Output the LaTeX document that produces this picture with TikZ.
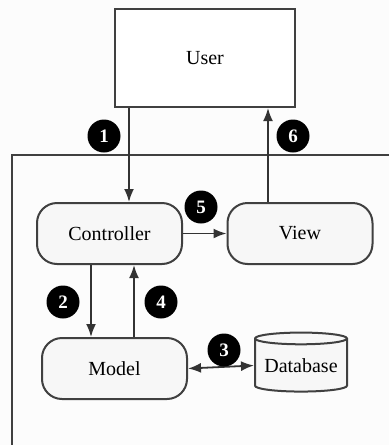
\documentclass[tikz,border=0pt]{standalone}
\usepackage{fontspec}
\setmainfont{Liberation Serif}
\usetikzlibrary{arrows.meta,shapes.geometric,calc}
\begin{document}
\begin{tikzpicture}[x=1pt,y=-1pt,
  userbox/.style={draw=black!75, line width=2pt, fill=white, minimum width=180pt, minimum height=98pt, font=\fontsize{20}{22}\selectfont},
  rbox/.style={draw=black!75, line width=2pt, fill=black!3, rounded corners=20pt, minimum width=145pt, minimum height=61pt, font=\fontsize{20}{22}\selectfont},
  dbbox/.style={cylinder, shape border rotate=90, aspect=0.16, draw=black!75, line width=2pt, fill=black!3, minimum width=92pt, minimum height=59pt, font=\fontsize{20}{22}\selectfont, inner sep=0pt},
  num/.style={circle, fill=black, text=white, inner sep=0pt, minimum size=33pt, font=\bfseries\fontsize{19}{19}\selectfont},
  arr/.style={draw=black!80, line width=1.8pt, -{Latex[length=13pt,width=10pt]}},
  darr/.style={draw=black!80, line width=1.8pt, {Latex[length=13pt,width=10pt]}-{Latex[length=13pt,width=10pt]}}
]
\useasboundingbox[fill=black!1] (0,0) rectangle (389,445);
\coordinate (fr1) at (389,155);
\coordinate (fr2) at (12,155);
\coordinate (fr3) at (12,445);
\draw[black!75, line width=2.4pt] (fr1) -- (fr2) -- (fr3);

\node[userbox] (user) at (205,58) {User};
\node[rbox] (ctrl) at (109.5,233.5) {Controller};
\node[rbox] (view) at (300,233.5) {View};
\node[rbox] (model) at (114.5,368.5) {Model};
\node[dbbox] (db) at (301,365.5) {Database};

\coordinate (u1) at ($(user.south west)+(15,0)$);
\draw[arr] (u1) -- (u1 |- ctrl.north);
\coordinate (v6) at ($(view.north)+(-32,0)$);
\draw[arr] (v6) -- (v6 |- user.south);
\draw[arr] (ctrl.east) -- (view.west);
\coordinate (c2) at ($(ctrl.south west)+(55,0)$);
\draw[arr] (c2) -- (c2 |- model.north);
\coordinate (m4) at ($(model.north west)+(93,0)$);
\draw[arr] (m4) -- (m4 |- ctrl.south);
\draw[darr] (model.east) -- (db.west);

\node[num] (n1) at (104,136) {1};
\node[num] (n6) at (293,136) {6};
\node[num] (n5) at (201,207) {5};
\node[num] (n2) at (63,302) {2};
\node[num] (n4) at (161,302) {4};
\node[num] (n3) at (224,350) {3};
\end{tikzpicture}
\end{document}
